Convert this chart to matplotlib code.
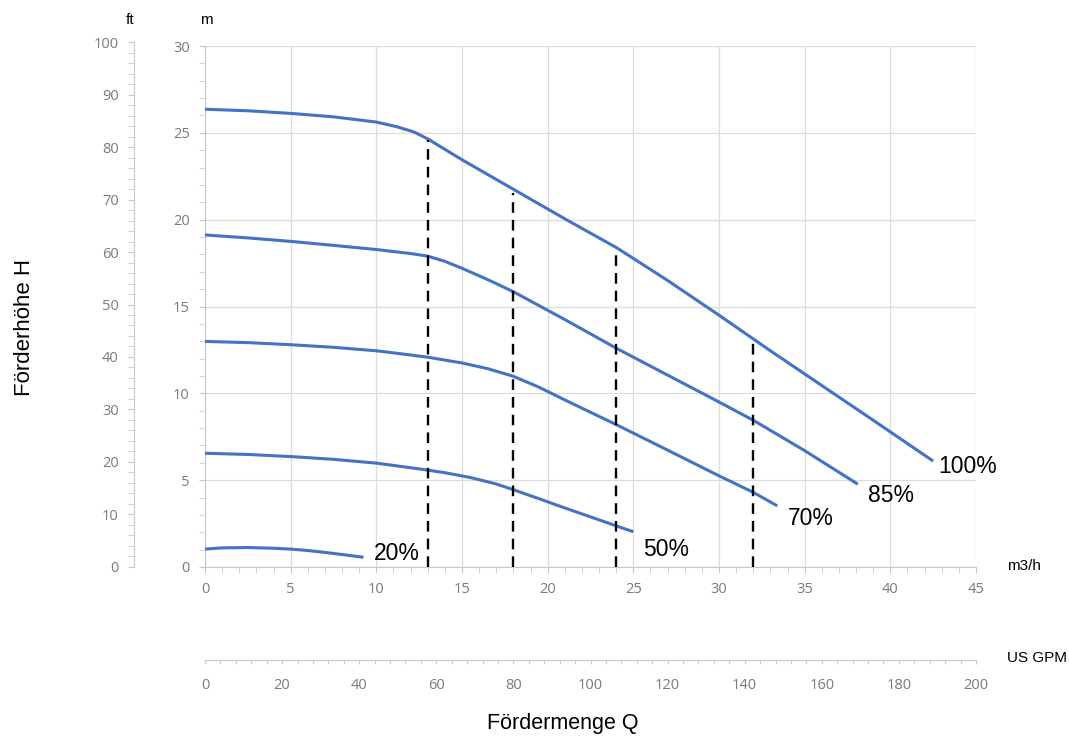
import matplotlib
matplotlib.use("Agg")
import matplotlib.pyplot as plt
from matplotlib.ticker import MultipleLocator

plt.rcParams['font.family'] = ['Liberation Sans', 'DejaVu Sans']

# pump curves, Q in m3/h, H in m
q_100 = [0, 2.5, 5, 7.5, 10, 11.2, 12.2, 13, 15, 18, 21, 24, 27, 30, 33, 36, 39, 42.5]
h_100 = [26.36, 26.27, 26.12, 25.92, 25.62, 25.35, 25.05, 24.65, 23.45, 21.75,
         20.05, 18.4, 16.5, 14.5, 12.45, 10.45, 8.45, 6.1]

q_85 = [0, 2.5, 5, 7.5, 10, 12, 13, 14, 15, 16.5, 18, 21, 24, 27, 30, 32, 35, 38.1]
h_85 = [19.12, 18.95, 18.75, 18.52, 18.28, 18.05, 17.9, 17.6, 17.2, 16.55, 15.85,
        14.25, 12.6, 11.05, 9.5, 8.45, 6.7, 4.77]

q_70 = [0, 2.5, 5, 7.5, 10, 11.5, 13, 15, 16.5, 18, 19.5, 21, 24, 27, 30, 32, 33.4]
h_70 = [12.99, 12.92, 12.8, 12.65, 12.45, 12.27, 12.08, 11.75, 11.42, 10.98,
        10.35, 9.62, 8.2, 6.73, 5.25, 4.3, 3.52]

q_50 = [0, 2.5, 5, 7.5, 10, 12.5, 14, 15.5, 17, 18, 19.5, 21, 24, 25]
h_50 = [6.55, 6.48, 6.36, 6.2, 5.98, 5.65, 5.43, 5.15, 4.78, 4.45, 3.93, 3.4, 2.37, 2.03]

q_20 = [0, 1, 2.5, 4, 5, 6, 7, 8, 9.25]
h_20 = [1.03, 1.1, 1.12, 1.08, 1.03, 0.95, 0.84, 0.72, 0.56]

curve_labels = ['100%', '85%', '70%', '50%', '20%']

# dashed duty lines
duty_q = [13, 18, 24, 32]
duty_h = [24.6, 21.55, 18.2, 12.9]

W, H = 1069, 738


def fx(x):
    return x / W


def fy(y):
    return 1 - y / H


fig = plt.figure(figsize=(W / 100, H / 100), dpi=100)

grey = '#c8c8c8'
tick_col = '#7a7a7a'
tick_size = 10.5

# main axes (m3/h, m)
ax = fig.add_axes([fx(205), fy(567), fx(976) - fx(205), fy(46) - fy(567)])
ax.set_xlim(0, 45)
ax.set_ylim(0, 30)
ax.xaxis.set_major_locator(MultipleLocator(5))
ax.xaxis.set_minor_locator(MultipleLocator(1))
ax.yaxis.set_major_locator(MultipleLocator(5))
ax.yaxis.set_minor_locator(MultipleLocator(1))
ax.grid(True, which='major', color='#dcdcdc', lw=0.9)
ax.set_axisbelow(True)
for s in ['top', 'right']:
    ax.spines[s].set_visible(False)
for s in ['left', 'bottom']:
    ax.spines[s].set_color(grey)
ax.tick_params(which='both', direction='out', length=4, color=grey,
               labelcolor=tick_col, labelsize=tick_size)
ax.tick_params(axis='x', pad=7)
ax.tick_params(axis='y', pad=7)
for lab in ax.get_xticklabels() + ax.get_yticklabels():
    lab.set_fontfamily('Open Sans')

blue = '#4472c4'
curves = [(q_100, h_100), (q_85, h_85), (q_70, h_70), (q_50, h_50), (q_20, h_20)]
for (q, h) in curves:
    ax.plot(q, h, color=blue, lw=2.2, solid_capstyle='butt',
            solid_joinstyle='round', zorder=3)

for q, h in zip(duty_q, duty_h):
    ax.plot([q, q], [0, h], color='black', lw=1.7, dashes=(4.5, 3), zorder=4)

# labels at the curve ends (offsets in points)
label_offsets = [(4, -4), (7.5, -8), (8, -9), (7, -13), (7.5, 3)]
for (q, h), txt, off in zip(curves, curve_labels, label_offsets):
    ax.annotate(txt, xy=(q[-1], h[-1]), xytext=off, textcoords='offset points',
                ha='left', va='center', fontsize=16.5)

# ft axis
axf = fig.add_axes([fx(134), fy(566.7), 0.0001, fy(42.3) - fy(566.7)])
axf.set_ylim(0, 100)
axf.set_xticks([])
axf.patch.set_visible(False)
for s in ['top', 'right', 'bottom']:
    axf.spines[s].set_visible(False)
axf.spines['left'].set_color(grey)
axf.yaxis.set_major_locator(MultipleLocator(10))
axf.yaxis.set_minor_locator(MultipleLocator(2))
axf.tick_params(which='both', direction='out', length=4, color=grey,
                labelcolor=tick_col, labelsize=tick_size, pad=7)
for lab in axf.get_yticklabels():
    lab.set_fontfamily('Open Sans')

# US GPM axis
axg = fig.add_axes([fx(205), fy(660), fx(976) - fx(205), 0.0001])
axg.set_xlim(0, 200)
axg.set_yticks([])
axg.patch.set_visible(False)
for s in ['top', 'right', 'left']:
    axg.spines[s].set_visible(False)
axg.spines['bottom'].set_color(grey)
axg.xaxis.set_major_locator(MultipleLocator(20))
axg.xaxis.set_minor_locator(MultipleLocator(4))
axg.tick_params(which='both', direction='out', length=3, color=grey,
                labelcolor=tick_col, labelsize=tick_size, pad=10)
for lab in axg.get_xticklabels():
    lab.set_fontfamily('Open Sans')

# unit and axis titles
fig.text(fx(130), fy(20), 'ft', ha='center', va='center', fontsize=11)
fig.text(fx(206), fy(20), 'm', ha='center', va='center', fontsize=11)
fig.text(fx(1007), fy(566), 'm3/h', ha='left', va='center', fontsize=11)
fig.text(fx(1007), fy(658), 'US GPM', ha='left', va='center', fontsize=11)
fig.text(fx(25), fy(328), 'Förderhöhe H', ha='center', va='center',
         rotation=90, fontsize=16)
fig.text(fx(563), fy(723), 'Fördermenge Q', ha='center', va='center', fontsize=15.5)

fig.savefig('out.png', dpi=100)
